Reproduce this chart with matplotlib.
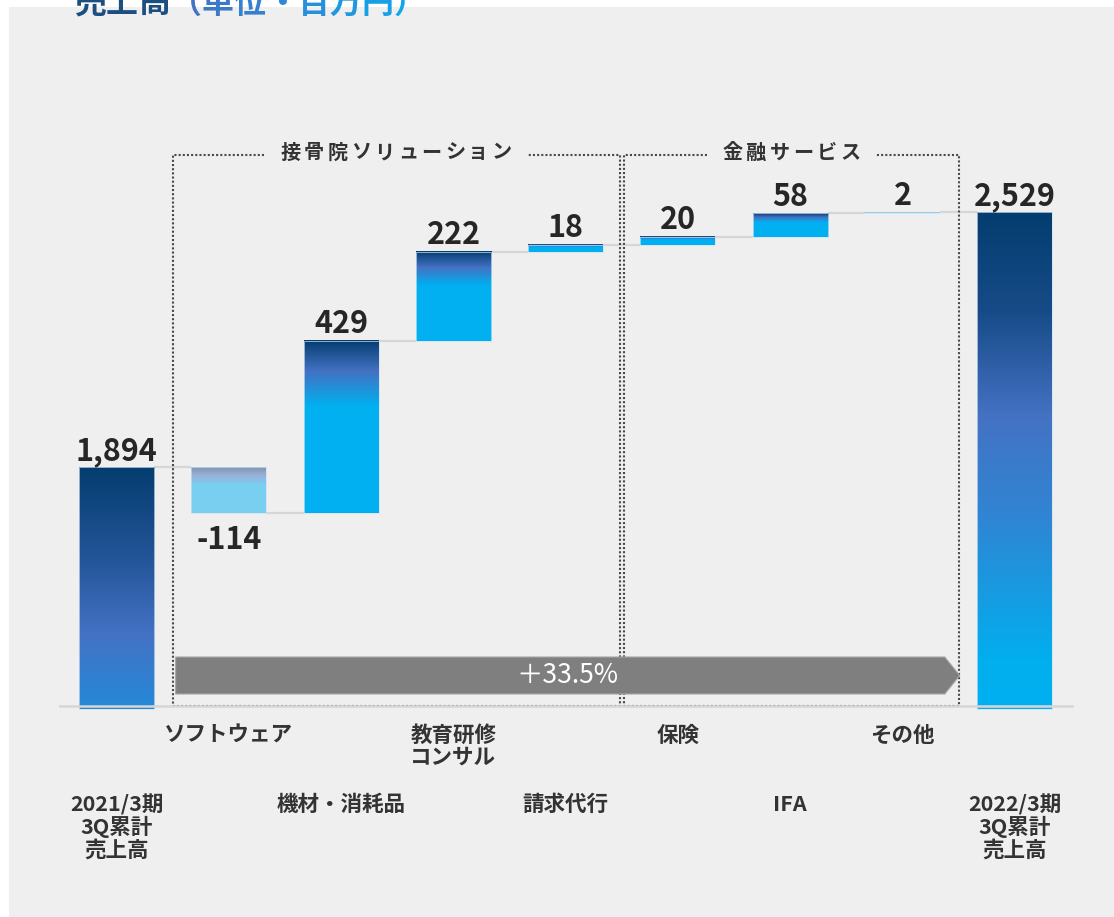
import matplotlib
matplotlib.use('Agg')
import matplotlib.pyplot as plt
import numpy as np
from matplotlib.colors import LinearSegmentedColormap, to_rgb
from matplotlib.patches import Rectangle, Polygon

# ---------------- data ----------------
categories = ["2021/3期\n3Q累計\n売上高", "ソフトウェア", "機材・消耗品", "教育研修\nコンサル",
              "請求代行", "保険", "IFA", "その他", "2022/3期\n3Q累計\n売上高"]
values = [1894, -114, 429, 222, 18, 20, 58, 2, 2529]
value_labels = ["1,894", "-114", "429", "222", "18", "20", "58", "2", "2,529"]
group_names = ["接骨院ソリューション", "金融サービス"]
group_first = [1, 5]
group_last = [4, 7]
growth_label = "＋33.5%"
title_main = "売上高"
title_unit = "（単位・百万円）"

plt.rcParams['font.family'] = ['Noto Sans CJK JP', 'DejaVu Sans']

W, H = 1114, 917
fig = plt.figure(figsize=(W / 100, H / 100), dpi=100)
fig.patch.set_facecolor('white')
fig.patches.append(Rectangle((9 / W, 0), 1, 1 - 7 / H, transform=fig.transFigure,
                             facecolor='#efefef', edgecolor='none', zorder=-10))

ax = fig.add_axes([0, 0, 1, 1])
ax.set_facecolor('none')
ax.axis('off')
ax.set_zorder(5)

S = 0.4016      # pixels per value unit
YBASE = 1300    # value at the baseline
BASE_PX = 706
PX0 = 116.5     # pixel x of first bar centre
PITCH = 112.3   # pixels between bars


def py(px):
    return YBASE + (BASE_PX - px) / S


def pxx(px):
    return (px - PX0) / PITCH


BW = 75 / PITCH

cm_first = LinearSegmentedColormap.from_list('f', [(0, '#043d6f'), (0.39, '#24569a'), (0.69, '#4472c4'), (1, '#2489d8')])
cm_last = LinearSegmentedColormap.from_list('l', [(0, '#043d6f'), (0.2, '#174b88'), (0.41, '#4472c4'), (0.62, '#2f86d4'), (0.9, '#02aeee'), (1, '#00b0f0')])
cm_inc = LinearSegmentedColormap.from_list('i', [(0, '#043d6f'), (0.18, '#4472c4'), (0.38, '#00b0f0'), (1, '#00b0f0')])

grad = np.linspace(0, 1, 256).reshape(-1, 1)

n = len(values)
running = 0.0
bottoms, tops, levels = [], [], []
for i, v in enumerate(values):
    if i == 0 or i == n - 1:
        b, t = YBASE, v
        running = v
    else:
        prev = running
        running = prev + v
        b, t = min(prev, running), max(prev, running)
    bottoms.append(b)
    tops.append(t)
    levels.append(running)

for i in range(n):
    b, t = bottoms[i], tops[i]
    if i == 0:
        cmap, alpha = cm_first, 1.0
    elif i == n - 1:
        cmap, alpha = cm_last, 1.0
    else:
        cmap, alpha = cm_inc, (0.5 if values[i] < 0 else 1.0)
    bb = b - 3 / S if i in (0, n - 1) else b
    ax.imshow(grad, cmap=cmap, aspect='auto', origin='upper', alpha=alpha,
              extent=(i - BW / 2, i + BW / 2, bb, t), interpolation='bilinear', zorder=3)
    ax.add_patch(Rectangle((i - BW / 2, bb), BW, t - bb, facecolor='none',
                           edgecolor='#cfe0f0', lw=0.5, zorder=4))

ax.set_xlim(-PX0 / PITCH, (W - PX0) / PITCH)
ax.set_ylim(YBASE - (H - BASE_PX) / S, YBASE + BASE_PX / S)

# connectors
for i in range(n - 1):
    ax.plot([i + BW / 2, i + 1 - BW / 2], [levels[i], levels[i]], color='#d6d6d6', lw=1.6, zorder=2,
            solid_capstyle='butt')

# baseline
ax.plot([pxx(60), pxx(1072)], [YBASE, YBASE], color='#d6d6d6', lw=1.8, zorder=5)

# value labels
for i in range(n):
    if values[i] < 0 and 0 < i < n - 1:
        ax.annotate(value_labels[i], xy=(i, bottoms[i]), xytext=(0, -8), textcoords='offset points',
                    ha='center', va='top', fontsize=22, fontweight='bold', color='#262626', zorder=6)
    else:
        ax.annotate(value_labels[i], xy=(i, tops[i]), xytext=(0, 5.5), textcoords='offset points',
                    ha='center', va='baseline', fontsize=22, fontweight='bold', color='#262626', zorder=6)

# category labels
for i, c in enumerate(categories):
    ytop = py(725) if i % 2 == 1 else py(794)
    ax.text(i, ytop, c, ha='center', va='top', multialignment='center', fontsize=15.5,
            fontweight='bold', color='#333333', linespacing=1.06, zorder=6)

# group boxes
box_top = py(154.6)
gpx = 2 / PITCH
char_pitch = 23.5 / PITCH
for k, (name, f, l) in enumerate(zip(group_names, group_first, group_last)):
    left = f - 0.5 + (gpx if k > 0 else 0)
    right = l + 0.5 - (gpx if k < len(group_names) - 1 else 0)
    center = (left + right) / 2
    half_text = (len(name) - 1) / 2 * char_pitch + 10 / PITCH
    gap = half_text + 16 / PITCH
    dot = dict(color='#4a4a4a', lw=1.5, linestyle=(0, (1, 1.0)), zorder=2)
    ax.plot([center - gap, left, left, right, right, center + gap],
            [box_top, box_top, YBASE, YBASE, box_top, box_top], **dot)
    for j, ch in enumerate(name):
        ax.text(center + (j - (len(name) - 1) / 2) * char_pitch, py(152), ch, ha='center', va='center',
                fontsize=14.5, fontweight='bold', color='#333333', zorder=6)

# growth arrow
a_left = group_first[0] - 0.5 + 3 / PITCH
a_tip = group_last[-1] + 0.5 + 1 / PITCH
a_body = a_tip - 15 / PITCH
a_top, a_bot = py(657), py(694)
a_mid = (a_top + a_bot) / 2
ax.add_patch(Polygon([(a_left, a_bot), (a_body, a_bot), (a_tip, a_mid), (a_body, a_top), (a_left, a_top)],
                     closed=True, facecolor='#7f7f7f', edgecolor='#a6a6a6', lw=0.8, zorder=3))
ax.text((a_left + a_tip) / 2, a_mid, growth_label, ha='center', va='center', fontsize=19,
        color='white', zorder=6)

# title (partially cut at top, as in the source)
em = 23 * 100 / 72
x0 = 74
base_y = 1 - 13 / H
for k, ch in enumerate(title_main):
    fig.text((x0 + k * em) / W, base_y, ch, ha='left', va='baseline', fontsize=23,
             fontweight='bold', color='#1d4e80')
c0, c1 = np.array(to_rgb('#4472c4')), np.array(to_rgb('#12a6ec'))
for k, ch in enumerate(title_unit):
    t = k / (len(title_unit) - 1)
    fig.text((x0 + (len(title_main) + k) * em) / W, base_y, ch, ha='left', va='baseline', fontsize=23,
             fontweight='bold', color=tuple(c0 * (1 - t) + c1 * t))

fig.savefig('out.png', dpi=100, facecolor=fig.get_facecolor())
